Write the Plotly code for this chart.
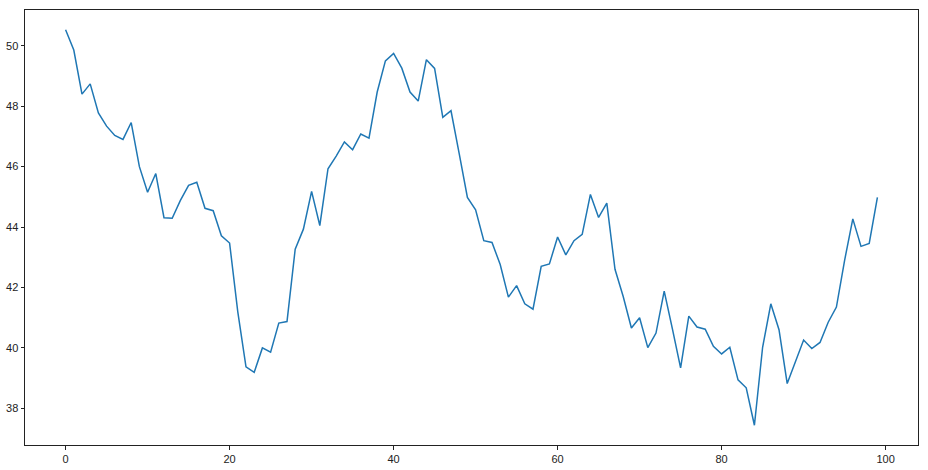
import plotly.graph_objects as go

x_values = list(range(100))
y_values = [
    50.53, 49.86, 48.40, 48.74, 47.78, 47.34, 47.03, 46.90, 47.46, 46.00,
    45.15, 45.77, 44.31, 44.29, 44.88, 45.38, 45.48, 44.62, 44.54, 43.71,
    43.47, 41.19, 39.37, 39.19, 40.00, 39.86, 40.82, 40.87, 43.27, 43.93,
    45.18, 44.05, 45.93, 46.35, 46.82, 46.56, 47.08, 46.94, 48.47, 49.50,
    49.75, 49.26, 48.47, 48.17, 49.54, 49.25, 47.63, 47.85, 46.43, 44.98,
    44.57, 43.55, 43.49, 42.76, 41.68, 42.06, 41.46, 41.28, 42.70, 42.78,
    43.67, 43.08, 43.55, 43.76, 45.08, 44.32, 44.79, 42.60, 41.70, 40.66,
    41.00, 40.01, 40.49, 41.88, 40.63, 39.34, 41.05, 40.69, 40.62, 40.05,
    39.80, 40.02, 38.94, 38.68, 37.44, 40.02, 41.46, 40.60, 38.82, 39.57,
    40.26, 39.98, 40.18, 40.85, 41.35, 42.90, 44.27, 43.36, 43.46, 44.98,
]
x_ticks = [0, 20, 40, 60, 80, 100]
y_ticks = [38, 40, 42, 44, 46, 48, 50]

fig = go.Figure(go.Scatter(x=x_values, y=y_values, mode="lines",
                           line=dict(color="#1f77b4", width=1.5),
                           showlegend=False))

ymin, ymax = min(y_values), max(y_values)
ypad = (ymax - ymin) * 0.05
xpad = (max(x_values) - min(x_values)) * 0.05

axis_common = dict(showline=True, linecolor="#222222", linewidth=1, mirror=True,
                   ticks="outside", ticklen=3.5, tickwidth=1, tickcolor="#222222",
                   showgrid=False, zeroline=False, automargin=False,
                   tickfont=dict(family="Liberation Sans Narrow, Liberation Sans, sans-serif",
                                 size=11, color="#222222"))

fig.update_layout(
    width=928, height=470,
    margin=dict(l=25, r=10, t=10, b=25, autoexpand=False),
    paper_bgcolor="white", plot_bgcolor="white",
    xaxis=dict(range=[min(x_values) - xpad, max(x_values) + xpad],
               tickvals=x_ticks, **axis_common),
    yaxis=dict(range=[ymin - ypad, ymax + ypad], tickvals=y_ticks, **axis_common),
)

fig.write_html("out.html",
               config={"displayModeBar": False},
               post_script="document.body.style.margin='0';document.body.style.padding='0';")
